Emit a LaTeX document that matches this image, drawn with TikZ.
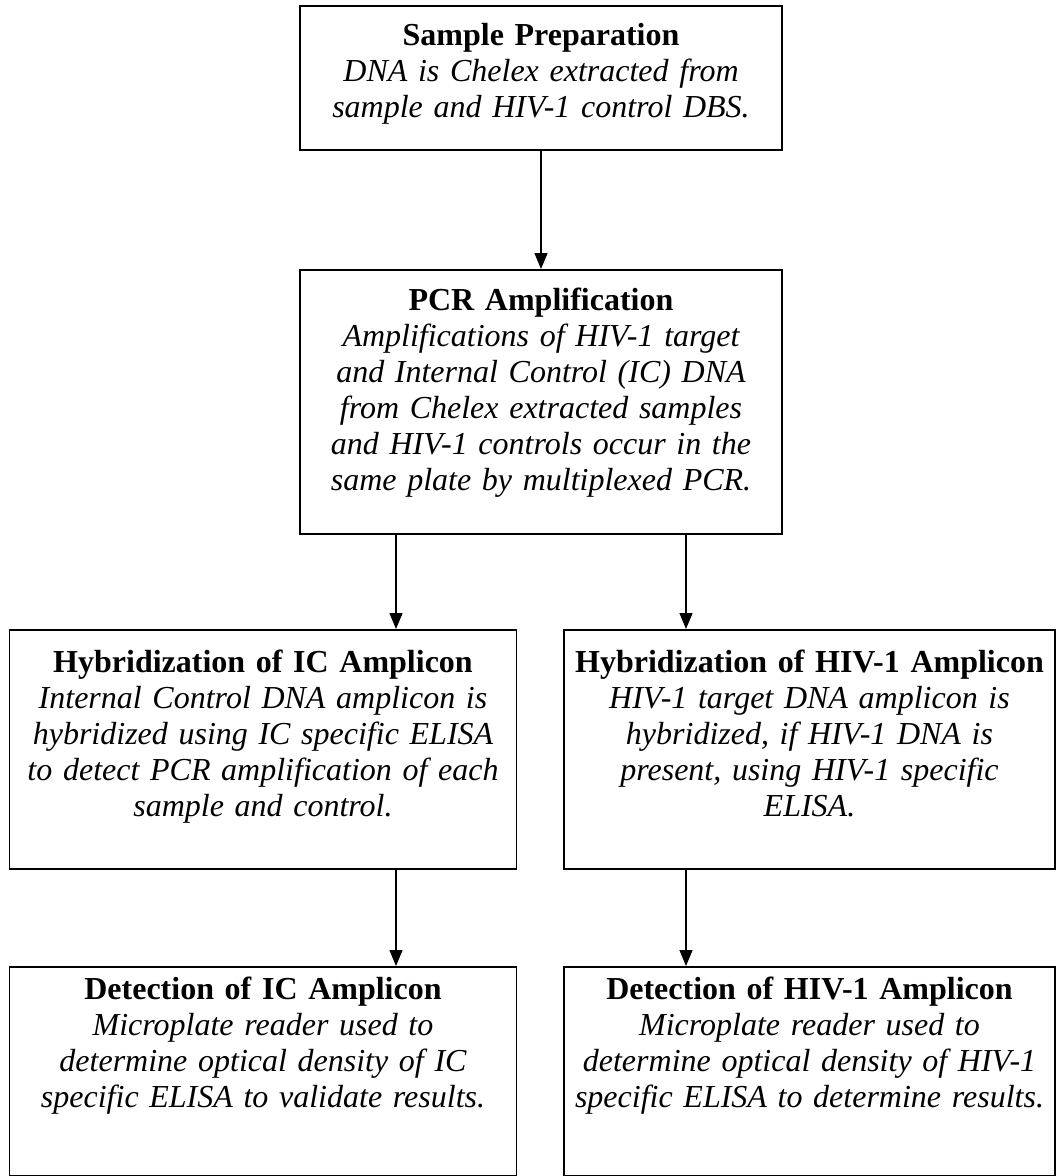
\documentclass[tikz,border=0pt]{standalone}
\usepackage{fontspec}
\setmainfont{Liberation Serif}
\usetikzlibrary{positioning, arrows.meta}

\newcommand{\steptitle}[1]{{\upshape\bfseries #1}}

\begin{document}
\begin{tikzpicture}[
    x=1pt, y=1pt,
    stepbox/.style={draw, line width=1.8pt, inner sep=0pt, anchor=north},
    steptext/.style={inner sep=0pt, align=center, text width=#1, font=\fontsize{32}{36}\selectfont\itshape},
    flow/.style={-{Triangle[length=16pt, width=13pt]}, line width=1.4pt}
]
\useasboundingbox (0,0) rectangle (1057,-1176);

% boxes
\node[stepbox, minimum width=482pt, minimum height=144pt] (prep) at (541,-5) {};
\node[stepbox, minimum width=482pt, minimum height=264pt] (pcr) at (541,-269) {};
\node[stepbox, minimum width=507pt, minimum height=239pt] (hybic) at (263,-629) {};
\node[stepbox, minimum width=491pt, minimum height=239pt] (hybhiv) at (809.5,-629) {};
\node[stepbox, minimum width=507pt, minimum height=209pt] (detic) at (263,-966) {};
\node[stepbox, minimum width=491pt, minimum height=209pt] (dethiv) at (809.5,-966) {};

% texts
\node[steptext=470pt, below=18pt of prep.north] (preptxt)
    {\steptitle{Sample Preparation}\\ DNA is Chelex extracted from\\ sample and HIV-1 control DBS.};
\node[steptext=470pt, below=19pt of pcr.north] (pcrtxt)
    {\steptitle{PCR Amplification}\\ Amplifications of HIV-1 target\\ and Internal Control (IC) DNA\\ from Chelex extracted samples\\ and HIV-1 controls occur in the\\ same plate by multiplexed PCR.};
\node[steptext=495pt, below=21pt of hybic.north] (hybictxt)
    {\steptitle{Hybridization of IC Amplicon}\\ Internal Control DNA amplicon is\\ hybridized using IC specific ELISA\\ to detect PCR amplification of each\\ sample and control.};
\node[steptext=483pt, below=21pt of hybhiv.north] (hybhivtxt)
    {\steptitle{Hybridization of HIV-1 Amplicon}\\ HIV-1 target DNA amplicon is\\ hybridized, if HIV-1 DNA is\\ present, using HIV-1 specific\\ ELISA.};
\node[steptext=495pt, below=11pt of detic.north] (detictxt)
    {\steptitle{Detection of IC Amplicon}\\ Microplate reader used to\\ determine optical density of IC\\ specific ELISA to validate results.};
\node[steptext=483pt, below=11pt of dethiv.north] (dethivtxt)
    {\steptitle{Detection of HIV-1 Amplicon}\\ Microplate reader used to\\ determine optical density of HIV-1\\ specific ELISA to determine results.};

% connectors
\coordinate (colL) at (396,0);
\coordinate (colR) at (686,0);
\draw[flow] (prep.south) -- (pcr.north);
\draw[flow] (pcr.south -| colL) -- (hybic.north -| colL);
\draw[flow] (pcr.south -| colR) -- (hybhiv.north -| colR);
\draw[flow] (hybic.south -| colL) -- (detic.north -| colL);
\draw[flow] (hybhiv.south -| colR) -- (dethiv.north -| colR);
\end{tikzpicture}
\end{document}
